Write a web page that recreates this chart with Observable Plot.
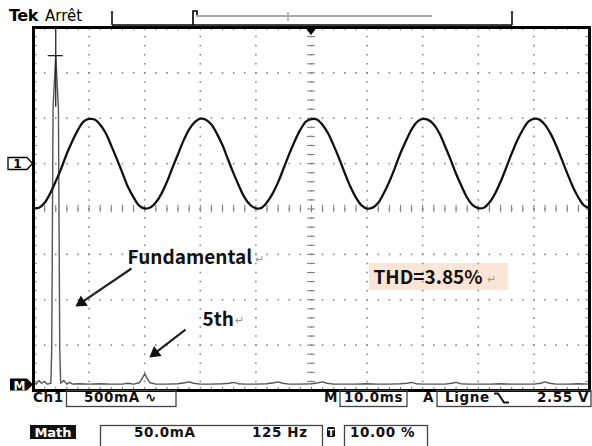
<!DOCTYPE html>
<html>
<head>
<meta charset="utf-8">
<script src="https://cdn.jsdelivr.net/npm/d3@7"></script>
<script src="https://cdn.jsdelivr.net/npm/@observablehq/plot@0.6"></script>
<style>
  body { margin: 0; background: #fff; }
  #scope { position: relative; width: 592px; height: 446px; overflow: hidden; background: #fff; }
  #scope svg { position: absolute; left: 0; top: 0; }
</style>
</head>
<body>
<div id="scope"></div>
<script>
// ---- Channel 1: line current, sampled every 1 ms over 10 divisions (10 ms/div) ----
const timeMs = d3.range(0, 101);
const ch1mA = [
  -490, -486, -432, -328, -195, -52, 112, 250, 372, 462, 492, 486, 428, 334, 196, 50, -104, -258, -372, -462,
  -494, -484, -428, -333, -200, -44, 106, 256, 378, 458, 495, 484, 432, 328, 202, 44, -110, -252, -378, -456,
  -492, -488, -426, -330, -204, -50, 108, 250, 374, 464, 490, 487, 426, 332, 198, 52, -106, -256, -374, -460,
  -495, -485, -431, -326, -198, -46, 114, 252, 376, 460, 493, 482, 430, 335, 195, 47, -112, -250, -376, -458,
  -491, -487, -429, -332, -201, -48, 110, 255, 373, 463, 494, 485, 427, 330, 200, 49, -107, -254, -373, -461,
  -493
];

// ---- Math channel: FFT of Ch1 (125 Hz/div, 50 mA/div) ----
const fftHz = [
  0, 6, 12, 18, 25, 31, 39, 41, 44, 50, 56, 59, 61, 68, 75, 81, 88, 100, 125, 150, 175, 200, 212,
  225, 238, 244, 250, 256, 262, 275, 300, 325, 340, 350, 360, 375, 400, 425, 440, 450, 460, 475,
  500, 525, 540, 550, 560, 575, 600, 625, 640, 650, 660, 675, 700, 725, 750, 775, 800, 825, 840,
  850, 860, 875, 900, 925, 940, 950, 960, 975, 1000, 1025, 1050, 1075, 1100, 1125, 1140, 1150,
  1160, 1175, 1200, 1225, 1250
];
const fftmA = [
  3, 1, 5, 2, 4, 1, 2, 40, 306, 363, 306, 40, 2, 5, 1, 3, 1, 1.5, 1, 1.5, 1, 1, 2,
  1, 2.5, 7, 12.5, 7, 2.5, 1, 1, 1.5, 2.5, 3.5, 2, 1, 1, 1.5, 2, 3, 1.5, 1,
  1, 1.5, 2.5, 3.5, 2, 1, 1, 1.5, 2.5, 3.5, 2, 1, 1, 1, 1.5, 1, 1, 1.5, 2,
  3, 1.5, 1, 1, 1, 2, 3, 1.5, 1, 1, 1, 1.5, 1, 1, 1, 2, 3.5,
  2, 1, 1, 1.5, 1
];
const fundamentalHz = 50;
const fundamentalmA = 363;
const thdPercent = 3.85;

// ---- Channel settings shown in the status lines ----
const ch1Scale = 500;     // mA/div
const ch1Offset = 1;      // div
const timeScale = 10;     // ms/div
const mathScale = 50;     // mA/div
const mathRef = -3.88;    // div
const freqScale = 125;    // Hz/div

const ch1 = timeMs.map((t, i) => ({x: t / timeScale, y: ch1Offset + ch1mA[i] / ch1Scale}));
const fft = fftHz.map((f, i) => ({x: f / freqScale, y: mathRef + fftmA[i] / mathScale}));

// ---- Graticule: 10 x 8 divisions with 5 minor steps ----
const gridDots = [];
for (let i = 1; i < 10; i++) if (i !== 5) for (let j = 1; j < 40; j++) gridDots.push({x: i, y: -4 + j * 0.2});
for (let j = -3; j <= 3; j++) if (j !== 0) for (let k = 1; k < 50; k++) gridDots.push({x: k * 0.2, y: j});
const minorY = d3.range(1, 40).map(j => -4 + j * 0.2);
const minorX = d3.range(1, 50).map(k => k * 0.2);

const tickColor = "#777";
const labelFont = `"Noto Sans CJK KR", "Noto Sans", sans-serif`;

// arrow geometry in division units (tail, head center, heading)
const arrows = [
  {x1: 1.763, y1: -1.311, x2: 0.86, y2: -2.063, rotate: 236},
  {x1: 2.734, y1: -2.656, x2: 2.185, y2: -3.178, rotate: 232}
];

const plot = Plot.plot({
  width: 592,
  height: 446,
  marginTop: 27,
  marginRight: 3,
  marginBottom: 56,
  marginLeft: 33,
  x: {domain: [0, 10], axis: null},
  y: {domain: [-4, 4], axis: null},
  style: {background: "transparent", overflow: "visible"},
  marks: [
    // THD label background
    Plot.rect([0], {x1: 6.043, x2: 8.543, y1: -1.796, y2: -1.201, fill: "#fbe5d6"}),
    // dotted division lines
    Plot.dot(gridDots, {x: "x", y: "y", r: 0.9, symbol: "square", fill: "#8a8a8a", stroke: null}),
    // center crosshair with minor ticks
    Plot.ruleY(minorY, {x1: 5 - 0.07, x2: 5 + 0.07, stroke: tickColor, strokeWidth: 1}),
    Plot.ruleX(minorX, {y1: -0.08, y2: 0.08, stroke: tickColor, strokeWidth: 1}),
    Plot.dot(minorY, {x: () => 5, y: d => d, r: 0.9, symbol: "square", fill: "#8a8a8a"}),
    Plot.dot(minorX, {x: d => d, y: () => 0, r: 0.9, symbol: "square", fill: "#8a8a8a"}),
    // minor ticks along the frame
    Plot.ruleY(minorY, {x1: 0, x2: 0.065, stroke: tickColor, strokeWidth: 1}),
    Plot.ruleY(minorY, {x1: 9.935, x2: 10, stroke: tickColor, strokeWidth: 1}),
    Plot.ruleX(minorX, {y1: 3.93, y2: 4, stroke: tickColor, strokeWidth: 1}),
    Plot.ruleX(minorX, {y1: -4, y2: -3.93, stroke: tickColor, strokeWidth: 1}),
    // Math (FFT) trace
    Plot.line(fft, {x: "x", y: "y", stroke: "#555", strokeWidth: 1.4}),
    Plot.ruleX([fundamentalHz], {x: f => f / freqScale, y1: mathRef + 306 / mathScale, y2: 4, stroke: "#222", strokeWidth: 1.3}),
    Plot.ruleY([fundamentalmA], {y: a => mathRef + a / mathScale, x1: fundamentalHz / freqScale - 0.135, x2: fundamentalHz / freqScale + 0.135, stroke: "#222", strokeWidth: 1.3}),
    // Ch1 trace
    Plot.line(ch1, {x: "x", y: "y", stroke: "#111", strokeWidth: 2.3, curve: "catmull-rom"}),
    // frame
    Plot.frame({stroke: "#000", strokeWidth: 3}),
    // annotations
    Plot.link(arrows, {x1: "x1", y1: "y1", x2: "x2", y2: "y2", stroke: "#222", strokeWidth: 2.2}),
    Plot.dot(arrows, {x: "x2", y: "y2", symbol: "triangle", r: 4.6, rotate: "rotate", fill: "#111", stroke: null}),
    Plot.text(["Fundamental"], {x: 1.69, y: -1.08, text: d => d, textAnchor: "start", fontSize: 19, fontWeight: "bold", fontFamily: labelFont, fill: "#111"}),
    Plot.text(["5th"], {x: 3.04, y: -2.435, text: d => d, textAnchor: "start", fontSize: 19, fontWeight: "bold", fontFamily: labelFont, fill: "#111"}),
    Plot.text([thdPercent], {x: 6.115, y: -1.51, text: d => `THD=${d.toFixed(2)}%`, textAnchor: "start", fontSize: 19, fontWeight: "bold", fontFamily: labelFont, fill: "#111"}),
    Plot.text([3.99, 3.63, 8.15], {x: d => d, y: (d, i) => [-1.12, -2.46, -1.55][i], text: () => "\u21B5", textAnchor: "start", fontSize: 11, fontFamily: labelFont, fill: "#999"})
  ]
});
document.getElementById("scope").appendChild(plot);

// ---- Oscilloscope status lines and markers ----
const svg = d3.select("#scope").append("svg")
  .attr("width", 592).attr("height", 446)
  .attr("font-family", `"DejaVu Sans", sans-serif`);

// header
svg.append("text").attr("x", 9).attr("y", 21).attr("font-size", 16).attr("font-weight", "bold").attr("letter-spacing", -0.5).text("Tek");
svg.append("text").attr("x", 45).attr("y", 21).attr("font-size", 15).text("Arrêt");
svg.append("path").attr("d", "M112,11V25M512,11V25M112,25H512").attr("stroke", "#000").attr("stroke-width", 1.5).attr("fill", "none");
svg.append("line").attr("x1", 196).attr("x2", 432).attr("y1", 16).attr("y2", 16).attr("stroke", "#aaa").attr("stroke-width", 2);
svg.append("line").attr("x1", 288).attr("x2", 288).attr("y1", 12).attr("y2", 21).attr("stroke", "#aaa").attr("stroke-width", 1.5);
svg.append("path").attr("d", "M193,25V11H197V15").attr("stroke", "#000").attr("stroke-width", 1.6).attr("fill", "none");
svg.append("path").attr("d", "M305.5,28H316.5L311,35Z").attr("fill", "#000");

// channel markers on the left edge
svg.append("path").attr("d", "M8,157.5H27L32.5,163.5L27,169.5H8Z").attr("fill", "#fff").attr("stroke", "#000").attr("stroke-width", 1.3);
svg.append("text").attr("x", 17.5).attr("y", 168).attr("text-anchor", "middle").attr("font-size", 12).attr("font-weight", "bold").text("1");
svg.append("path").attr("d", "M10,378.5H27L33,384.5L27,390.5H10Z").attr("fill", "#000");
svg.append("text").attr("x", 19.5).attr("y", 389.5).attr("text-anchor", "middle").attr("font-size", 12).attr("font-weight", "bold").attr("fill", "#fff").text("M");

// status line 1
const status = svg.append("g").attr("font-size", 13.5).attr("font-weight", "bold").attr("letter-spacing", 0.6).attr("fill", "#111");
const box = (x1, x2, y1, y2) => svg.append("rect").attr("x", x1).attr("y", y1).attr("width", x2 - x1).attr("height", y2 - y1)
  .attr("fill", "none").attr("stroke", "#444").attr("stroke-width", 1.3);
status.append("text").attr("x", 33).attr("y", 402).text("Ch1");
box(66.5, 176, 390.5, 406.5);
status.append("text").attr("x", 84).attr("y", 402).text(`${ch1Scale}mA \u223F`);
status.append("text").attr("x", 324).attr("y", 402).text("M");
box(340, 407, 390.5, 406.5);
status.append("text").attr("x", 344).attr("y", 402).text(`${timeScale.toFixed(1)}ms`);
status.append("text").attr("x", 423).attr("y", 402).text("A");
box(437, 591, 390.5, 406.5);
status.append("text").attr("x", 445).attr("y", 402).text("Ligne");
svg.append("path").attr("d", "M494,393.5H498L504,402.5H509").attr("stroke", "#111").attr("stroke-width", 2).attr("fill", "none");
status.append("text").attr("x", 589).attr("y", 402).attr("text-anchor", "end").text("2.55 V");

// status line 2
svg.append("rect").attr("x", 30).attr("y", 425).attr("width", 46).attr("height", 14).attr("fill", "#111");
svg.append("text").attr("x", 53).attr("y", 437).attr("text-anchor", "middle").attr("font-size", 13).attr("font-weight", "bold").attr("fill", "#fff").text("Math");
box(100.5, 322.5, 425.5, 452);
status.append("text").attr("x", 134).attr("y", 437).text(`${mathScale.toFixed(1)}mA`);
status.append("text").attr("x", 252).attr("y", 437).text(`${freqScale} Hz`);
svg.append("rect").attr("x", 327).attr("y", 427).attr("width", 8).attr("height", 10).attr("rx", 1.5).attr("fill", "#111");
svg.append("text").attr("x", 331).attr("y", 435.5).attr("text-anchor", "middle").attr("font-size", 9).attr("font-weight", "bold").attr("fill", "#fff").text("T");
box(344.5, 427.5, 425.5, 452);
status.append("text").attr("x", 350).attr("y", 437).text("10.00 %");
</script>
</body>
</html>
